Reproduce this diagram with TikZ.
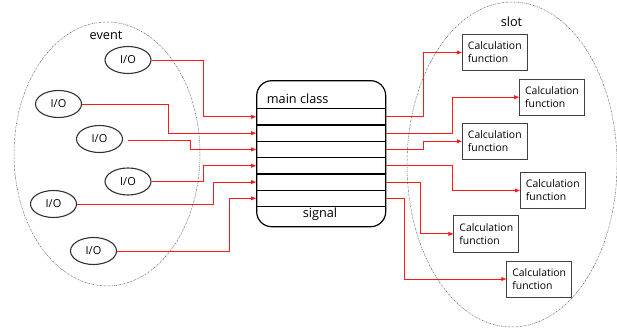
\documentclass[tikz,border=0pt]{standalone}
\usepackage{fontspec}
\setmainfont{Open Sans}
\usetikzlibrary{shapes.geometric,arrows.meta,calc}

\tikzset{
  groupring/.style={draw=black!60, line width=0.5pt,
    dash pattern=on 1.6pt off 0.9pt on 0.5pt off 0.9pt},
  iobox/.style={ellipse, draw=black!80, line width=1.1pt, inner sep=0pt,
    minimum width=46pt, minimum height=27pt, font=\fontsize{11}{13}\selectfont},
  calcbox/.style={rectangle, draw=black!75, line width=0.8pt, inner sep=0pt,
    minimum width=65pt, minimum height=36pt, align=left,
    font=\fontsize{10.4}{13}\selectfont},
  lbl/.style={font=\fontsize{12.7}{15}\selectfont, inner sep=0pt},
  sig/.style={draw=red!90!white, line width=0.85pt,
    -{Triangle[length=5pt,width=3.8pt]}},
  rowline/.style={line width=1.3pt}
}

\begin{document}
\begin{tikzpicture}[x=1pt,y=-1pt]
\useasboundingbox (0,0) rectangle (617,328);

% grouping rings
\draw[groupring] (107,154) ellipse [x radius=93, y radius=132];
\draw[groupring] (512,164.5) ellipse [x radius=105, y radius=162.5];
\node[lbl] (evt) at (106,35) {event};
\node[lbl] (slt) at (511.5,21.5) {slot};

% event sources
\node[iobox] (io1) at (128,60)    {I/O};
\node[iobox] (io2) at (58.5,104)  {I/O};
\node[iobox] (io3) at (99.5,139)  {I/O};
\node[iobox] (io4) at (128,181.5) {I/O};
\node[iobox] (io5) at (53.5,204)  {I/O};
\node[iobox] (io6) at (93.5,251)  {I/O};

% main class with its signal table
\node[draw, line width=1.2pt, rounded corners=15pt, minimum width=129pt,
  minimum height=146pt, inner sep=0pt] (mc) at (321.2,153.7) {};
\node[lbl, anchor=west] (mct) at (266.7,98.3) {main class};
\node[lbl] (sgn) at (320,214.3) {signal};
\foreach \yy in {108.7,125.0,141.3,157.6,173.9,190.2,206.5}
  \draw[rowline] (mc.west |- 0,\yy) -- (mc.east |- 0,\yy);

% row entry / exit points
\foreach \i/\yy in {1/116.85,2/133.15,3/149.45,4/165.75,5/182.05,6/198.35}{
  \coordinate (in\i) at (mc.west |- 0,\yy);
  \coordinate (out\i) at (mc.east |- 0,\yy);
}

% slot functions
\node[calcbox] (cf1) at (494.8,52.5)  {Calculation\\function};
\node[calcbox] (cf2) at (552,97.2)    {Calculation\\function};
\node[calcbox] (cf3) at (494.8,141.3) {Calculation\\function};
\node[calcbox] (cf4) at (552.8,190.5) {Calculation\\function};
\node[calcbox] (cf5) at (486.3,233.9) {Calculation\\function};
\node[calcbox] (cf6) at (539.2,279)   {Calculation\\function};

% events into the signal rows
\draw[sig] (io1.east) -| ([xshift=-52.7pt]in1) -- (in1);
\draw[sig] (io2.east) -| ([xshift=-87.7pt]in2) -- (in2);
\draw[sig] ([xshift=4.5pt,yshift=-1.7pt]io3.east) -| ([xshift=-65.7pt]in3) -- (in3);
\draw[sig] (io4.east) -| ([xshift=-52.7pt]in4) -- (in4);
\draw[sig] (io5.east) -| ([xshift=-42.7pt]in5) -- (in5);
\draw[sig] (io6.east) -| ([xshift=-26.4pt]in6) -- (in6);

% signal rows out to the slots
\draw[sig] (out1) -| ([xshift=-38.3pt]cf1.west) -- (cf1.west);
\draw[sig] (out2) -| ([xshift=-66.6pt]cf2.west) -- (cf2.west);
\draw[sig] (out3) -| ([xshift=-38.3pt]cf3.west) -- (cf3.west);
\draw[sig] (out4) -| ([xshift=-67.6pt]cf4.west) -- (cf4.west);
\draw[sig] (out5) -| ([xshift=-33.3pt]cf5.west) -- (cf5.west);
\draw[sig] (out6) -| ([xshift=-102.3pt]cf6.west) -- (cf6.west);
\end{tikzpicture}
\end{document}
